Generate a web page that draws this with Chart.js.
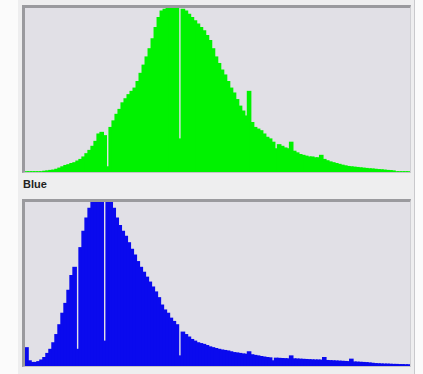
<!DOCTYPE html>
<html>
<head>
<meta charset="utf-8">
<script src="https://cdn.jsdelivr.net/npm/chart.js@4"></script>
<style>
  html, body { margin: 0; padding: 0; background: #fbfbfb; }
  body { width: 423px; height: 374px; position: relative; overflow: hidden; }
  #frame { position: absolute; left: 18px; top: 0; width: 396px; height: 374px;
           background: #eeeeef; border-right: 1px solid #c9c9cc; }
  .panel { position: absolute; left: 22px; width: 385px; height: 164px;
           border-style: solid; border-width: 3px 1px 1px 3px;
           border-color: #9a9a9e #d0d0d4 #c4c4c8 #9a9a9e; background: #e1e0e6; }
  #topPanel { top: 5px; }
  #bottomPanel { top: 199px; }
  #label { position: absolute; left: 23px; top: 178px; font: 600 11px "Liberation Sans", Arial, sans-serif;
           color: #222; }
  canvas { display: block; }
</style>
</head>
<body>
<div id="frame"></div>
<div class="panel" id="topPanel"><canvas id="greenChart" width="385" height="164"></canvas></div>
<div id="label">Blue</div>
<div class="panel" id="bottomPanel"><canvas id="blueChart" width="385" height="164"></canvas></div>
<script>
// 128 histogram bins, values as percent of the panel height
const bins = Array.from({ length: 128 }, (_, i) => String(i))

const greenValues = [
  0, 0, 0, 0, 0, 0, 0.3, 0.5, 0.8, 1, 1.5, 2.2, 3, 3.8, 4.3, 5,
  5.5, 6.5, 7.5, 9, 11, 13, 15.5, 18.5, 23, 24, 22, 3, 27, 31, 35, 38,
  42, 44.5, 47, 49, 51, 55, 60, 65, 70, 75, 81, 88, 94, 98, 99, 100,
  100, 100, 100, 20, 99, 98, 96, 94, 92, 90, 88, 86, 83, 80, 75, 70,
  66, 62, 59, 55, 51, 48, 44, 40, 37, 34, 49, 30, 27, 26, 25, 23,
  21, 20, 18, 14, 16.5, 15.5, 14.5, 14, 18, 12.5, 11.5, 10.5, 10, 9.5, 9, 9,
  8.5, 8.5, 10, 7.5, 6.7, 6, 5.5, 5, 4.5, 4, 3.6, 3.2, 3, 2.8, 2.6, 2.4,
  2.2, 2, 1.8, 1.7, 1.5, 1.3, 1.2, 1, 0.8, 0.7, 0.5, 0, 0, 0, 0, 0
]

const blueValues = [
  11, 3, 2, 2, 2.5, 3.5, 5, 7.5, 10, 14, 19, 25, 32, 38, 46, 55,
  60, 10, 72, 82, 90, 96, 100, 100, 100, 100, 15, 100, 100, 96, 90, 85.5,
  82, 79, 75, 71, 67.5, 63.5, 60, 57, 54, 51, 48, 45, 41.5, 37, 34, 32,
  29, 27, 25, 6, 20.5, 19, 17.5, 16, 15, 14, 13.5, 13, 12.3, 11.5, 11, 10.5,
  10, 9.6, 9.3, 9, 8.5, 8, 7.8, 7.5, 7.2, 7, 8.5, 6.7, 6.3, 6, 5.6, 5.3,
  5, 4.8, 3, 4.6, 4.5, 4.4, 4.3, 4.2, 6, 4.2, 4.1, 4, 3.9, 3.8, 3.7, 3.6,
  3.5, 3.5, 3.4, 5, 3.2, 3.1, 3, 2.9, 2.8, 2.7, 2.6, 2.5, 4, 2.3, 2.2, 2.1,
  2, 1.9, 1.7, 1.5, 1.3, 1.2, 1.1, 1, 1, 0.9, 0.8, 0.8, 0.7, 0.7, 0.6, 0.6
]

function histogram (canvasId, values, color) {
  const ctx = document.getElementById(canvasId).getContext('2d')
  return new Chart(ctx, {
    type: 'bar',
    data: {
      labels: bins,
      datasets: [
        {
          data: values,
          backgroundColor: color,
          borderWidth: 0,
          inflateAmount: 0.8,
          barPercentage: 1,
          categoryPercentage: 1
        }
      ]
    },
    options: {
      responsive: false,
      animation: false,
      layout: { padding: 0 },
      plugins: { legend: { display: false }, tooltip: { enabled: false } },
      scales: {
        x: { display: false, offset: true },
        y: { display: false, min: 0, max: 100 }
      }
    }
  })
}

histogram('greenChart', greenValues, '#00f200')
histogram('blueChart', blueValues, '#0a0aee')
</script>
</body>
</html>
